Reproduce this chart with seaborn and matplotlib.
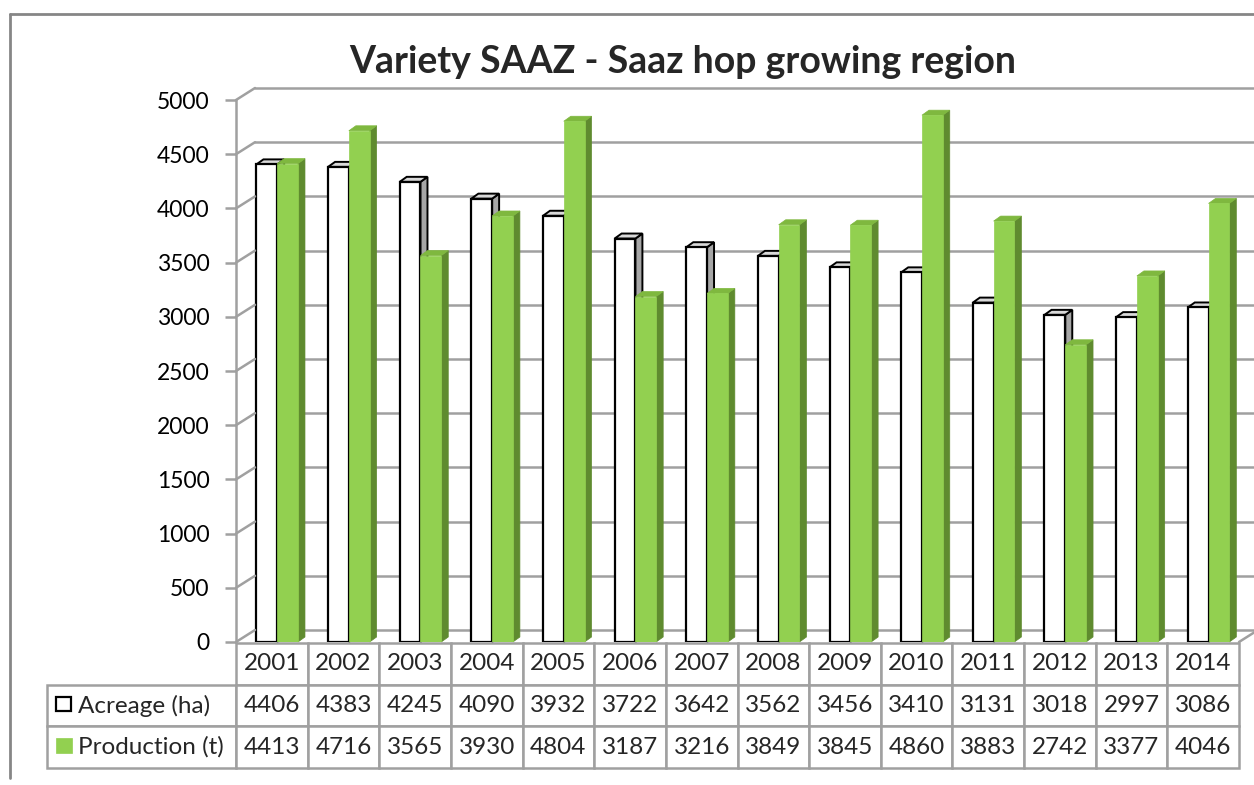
import matplotlib
matplotlib.use("Agg")
import matplotlib.pyplot as plt
import matplotlib.transforms as mtransforms
from matplotlib.patches import Polygon, Rectangle
from matplotlib.lines import Line2D
import pandas as pd
import seaborn as sns

years = ["2001", "2002", "2003", "2004", "2005", "2006", "2007",
         "2008", "2009", "2010", "2011", "2012", "2013", "2014"]
acreage = [4406, 4383, 4245, 4090, 3932, 3722, 3642, 3562, 3456, 3410, 3131, 3018, 2997, 3086]
production = [4413, 4716, 3565, 3930, 4804, 3187, 3216, 3849, 3845, 4860, 3883, 2742, 3377, 4046]
series_names = ["Acreage (ha)", "Production (t)"]
yticks = [0, 500, 1000, 1500, 2000, 2500, 3000, 3500, 4000, 4500, 5000]
title = "Variety SAAZ - Saaz hop growing region"

GREEN = "#92d050"
GREEN_SIDE = "#5f8b2f"
GREEN_TOP = "#7fb83f"
WHITE_SIDE = "#a6a6a6"
WHITE_TOP = "#d9d9d9"
GRID = "#a0a0a0"

df = pd.DataFrame({
    "year": years * 2,
    "value": acreage + production,
    "series": [series_names[0]] * len(years) + [series_names[1]] * len(years),
})

sns.set_style("white")
plt.rcParams["font.family"] = ["Lato", "DejaVu Sans"]

W, H = 1254, 785
fig = plt.figure(figsize=(W / 100, H / 100), dpi=100)


def fx(px):
    return px / W


def fy(py):
    return 1 - py / H


# plot area (front plane)
ax = fig.add_axes([fx(236), fy(642), (1239 - 236) / W, (642 - 100) / H])
sns.barplot(data=df, x="year", y="value", hue="series", palette=["white", GREEN],
            width=0.58, saturation=1, legend=False, ax=ax, zorder=2)
xl0, xl1 = -0.5 - 0.075, 13.5 - 0.075
ax.set_xlim(xl0, xl1)
ax.set_ylim(0, 5000)
ax.set_yticks(yticks)
ax.set_xticks([])
ax.set_xlabel("")
ax.set_ylabel("")
for s in ["top", "right", "bottom"]:
    ax.spines[s].set_visible(False)
ax.spines["left"].set_color(GRID)
ax.spines["left"].set_linewidth(1.8)
ax.tick_params(axis="y", length=8, width=1.8, color=GRID, labelsize=16.5, pad=11,
               left=True, labelcolor="black")
ax.patch.set_alpha(0)

# fake 3D depth for the bars
ppx = (xl1 - xl0) / (1239 - 236)
ppy = 5000 / (642 - 100)
ddx, ddy = 7 * ppx, 5 * ppy
n = len(years)
for i, bar in enumerate(list(ax.patches)):
    x0, w, h = bar.get_x(), bar.get_width(), bar.get_height()
    white = i < n
    z = 2 if white else 3
    bar.set_zorder(z)
    if white:
        bar.set_edgecolor("black")
        bar.set_linewidth(1.6)
    else:
        bar.set_edgecolor(GREEN)
        bar.set_linewidth(0.5)
    side = [(x0 + w, 0), (x0 + w + ddx, ddy), (x0 + w + ddx, h + ddy), (x0 + w, h)]
    top = [(x0, h), (x0 + ddx, h + ddy), (x0 + w + ddx, h + ddy), (x0 + w, h)]
    ax.add_patch(Polygon(side, closed=True, facecolor=WHITE_SIDE if white else GREEN_SIDE,
                         edgecolor="black" if white else GREEN_SIDE,
                         lw=1.4 if white else 0.5, zorder=z - 0.1, clip_on=False))
    ax.add_patch(Polygon(top, closed=True, facecolor=WHITE_TOP if white else GREEN_TOP,
                         edgecolor="black" if white else GREEN_TOP,
                         lw=1.4 if white else 0.5, zorder=z - 0.1, clip_on=False))

# back wall gridlines, shifted into depth
fig.canvas.draw()
off_x, off_y = 19, 12
back = ax.transData + mtransforms.ScaledTranslation(off_x / 100, off_y / 100, fig.dpi_scale_trans)
for v in yticks:
    ax.plot([xl0, xl1 + 1], [v, v], color=GRID, lw=1.8, transform=back, clip_on=False, zorder=0.5)
    p = ax.transData.transform((xl0, v))
    fig.add_artist(Line2D([p[0], p[0] + off_x], [p[1], p[1] + off_y], color=GRID, lw=1.8,
                          transform=mtransforms.IdentityTransform(), zorder=0.5))
p = ax.transData.transform((xl1, 0))
fig.add_artist(Line2D([p[0], p[0] + off_x], [p[1], p[1] + off_y], color=GRID, lw=1.8,
                      transform=mtransforms.IdentityTransform(), zorder=0.5))

# data table below the plot (first column holds the series names)
tax = fig.add_axes([fx(47), fy(768), (1239 - 47) / W, (768 - 643) / H])
tax.axis("off")
label_w = (236 - 47) / (1239 - 47)
col_w = (1239 - 236) / (1239 - 47) / n
rows = [[series_names[0]] + [str(v) for v in acreage],
        [series_names[1]] + [str(v) for v in production]]
tbl = tax.table(cellText=rows, colLabels=[""] + years, cellLoc="center",
                colWidths=[label_w] + [col_w] * n, bbox=[0, 0, 1, 1])
tbl.auto_set_font_size(False)
tbl.set_fontsize(17.5)
for (r, c), cell in tbl.get_celld().items():
    cell.set_edgecolor(GRID)
    cell.set_linewidth(1.8)
    if c == 0:
        if r == 0:
            cell.set_visible(False)
        else:
            cell.get_text().set_horizontalalignment("left")
            cell.PAD = (78 - 47) / (236 - 47)

# legend keys inside the row label cells
fig.add_artist(Rectangle((fx(56), fy(711)), 15 / W, 14 / H, facecolor="white",
                         edgecolor="black", lw=1.6, transform=fig.transFigure))
fig.add_artist(Rectangle((fx(56), fy(753)), 16 / W, 15 / H, facecolor=GREEN,
                         edgecolor=GREEN, lw=0.5, transform=fig.transFigure))

# chart frame
fig.add_artist(Line2D([fx(10), fx(1254)], [fy(14), fy(14)], color="#868686", lw=2))
fig.add_artist(Line2D([fx(10), fx(10)], [fy(14), fy(778)], color="#868686", lw=2))

fig.text(fx(683), fy(62), title, ha="center", va="center", fontsize=27, fontweight="bold")

fig.savefig("out.png", dpi=100, facecolor="white")
